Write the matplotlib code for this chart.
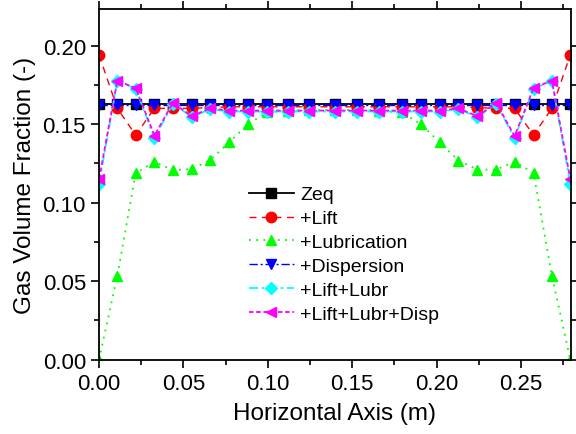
import matplotlib
matplotlib.use("Agg")
import matplotlib.pyplot as plt
from matplotlib.ticker import MultipleLocator

plt.rcParams['font.family'] = ['Liberation Sans', 'DejaVu Sans']

x = [0.0, 0.0108, 0.0217, 0.0328, 0.0437, 0.0550, 0.0657, 0.0771, 0.0884, 0.0995,
     0.1118, 0.1245, 0.1395, 0.1530, 0.1661, 0.1794, 0.1906, 0.2017, 0.2129, 0.2242,
     0.2353, 0.2462, 0.2574, 0.2683, 0.2792]

zeq = [0.1625] * 25
lift = [0.194, 0.160, 0.143, 0.160, 0.160, 0.160, 0.1605, 0.161, 0.161, 0.161,
        0.161, 0.161, 0.161, 0.161, 0.161, 0.161, 0.161, 0.161, 0.161, 0.1605,
        0.160, 0.160, 0.143, 0.160, 0.194]
lubrication = [0.0, 0.0534, 0.1186, 0.126, 0.1207, 0.1213, 0.127, 0.1385, 0.150, 0.1575,
               0.1585, 0.159, 0.159, 0.159, 0.1585, 0.1575, 0.150, 0.1385, 0.1268, 0.121,
               0.121, 0.126, 0.119, 0.0535, 0.0]
dispersion = [0.162] * 25
lift_lubr = [0.112, 0.1775, 0.1725, 0.141, 0.1630, 0.1545, 0.1595, 0.158, 0.158, 0.158,
             0.158, 0.158, 0.158, 0.158, 0.158, 0.158, 0.158, 0.158, 0.1595, 0.1545,
             0.1630, 0.141, 0.1725, 0.1775, 0.112]
lift_lubr_disp = [0.115, 0.1777, 0.1729, 0.1427, 0.1635, 0.155, 0.160, 0.1586, 0.1586, 0.1586,
                  0.1586, 0.1586, 0.1586, 0.1586, 0.1586, 0.1586, 0.1586, 0.1586, 0.160, 0.155,
                  0.1635, 0.1423, 0.1729, 0.1777, 0.115]

fig = plt.figure(figsize=(5.76, 4.35), dpi=100)
ax = fig.add_axes([0.172, 0.171, 0.819, 0.805])

ms = 7.5
ax.plot(x, zeq, color='black', ls='-', lw=1.3, marker='s', ms=ms, label='Zeq')
ax.plot(x, lift, color='#FF0000', ls=(0, (5, 4)), lw=1.0, marker='o', ms=ms, label='+Lift')
ax.plot(x, lubrication, color='#00FF00', ls=(0, (1, 3)), lw=1.3, marker='^', ms=ms,
        label='+Lubrication')
ax.plot(x, dispersion, color='#0000FF', ls=(0, (6, 2, 1.5, 2)), lw=1.0, marker='v', ms=ms,
        label='+Dispersion')
ax.plot(x, lift_lubr, color='#00FFFF', ls=(0, (5, 2, 1.5, 2)), lw=1.3, marker='D', ms=ms - 1,
        label='+Lift+Lubr')
ax.plot(x, lift_lubr_disp, color='#FF00FF', ls=(0, (2.5, 1.5)), lw=1.3, marker='<', ms=ms,
        label='+Lift+Lubr+Disp')

ax.set_xlim(0, 0.2795)
ax.set_ylim(0, 0.223)
ax.xaxis.set_major_locator(MultipleLocator(0.05))
ax.xaxis.set_minor_locator(MultipleLocator(0.025))
ax.yaxis.set_major_locator(MultipleLocator(0.05))
ax.yaxis.set_minor_locator(MultipleLocator(0.025))
ax.xaxis.set_major_formatter(matplotlib.ticker.FormatStrFormatter('%.2f'))
ax.yaxis.set_major_formatter(matplotlib.ticker.FormatStrFormatter('%.2f'))
ax.tick_params(which='both', direction='out', top=True, right=True, width=1.2,
               labelsize=16)
ax.tick_params(which='major', length=6)
ax.tick_params(which='minor', length=3.5)
for s in ax.spines.values():
    s.set_linewidth(1.3)

ax.set_xlabel('Horizontal Axis (m)', fontsize=17.5, labelpad=6)
ax.set_ylabel('Gas Volume Fraction (-)', fontsize=17.5, labelpad=5)

ax.legend(loc='upper left', bbox_to_anchor=(0.288, 0.535), frameon=False, fontsize=14,
          handlelength=2.35, handletextpad=0.3, labelspacing=0.32, borderpad=0.2)

fig.savefig('out.png', dpi=100)
